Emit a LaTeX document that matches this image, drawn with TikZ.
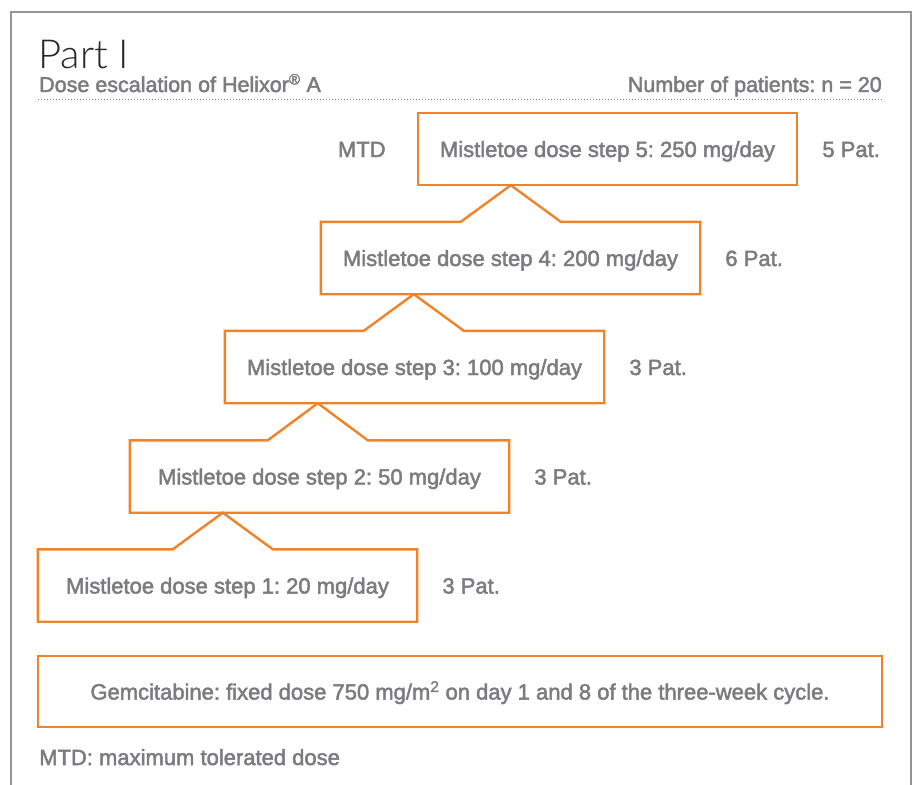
\documentclass[tikz,border=0pt]{standalone}
\usepackage{fontspec}
\usetikzlibrary{calc}
\setmainfont{Liberation Sans}[FakeBold=2.2]
\newfontfamily\titlefont{Lato Light}
\definecolor{ora}{RGB}{240,130,40}
\definecolor{txt}{RGB}{124,124,128}
\definecolor{frame}{RGB}{150,150,150}
\frenchspacing
\begin{document}
\begin{tikzpicture}[x=1pt,y=-1pt,
  ob/.style={draw=ora,line width=2.4pt,line join=miter},
  stepbox/.style={minimum width=379pt,minimum height=72pt,inner sep=0pt,text height=16pt,text depth=0pt,text=txt,font=\fontsize{22}{24}\selectfont},
  lab/.style={inner sep=0pt,text height=16pt,text depth=0pt,text=txt,font=\fontsize{22}{24}\selectfont}]
\useasboundingbox (0,0) rectangle (915,784);
\fill[white] (0,0) rectangle (915,784);
\draw[frame,line width=1.5pt] (11,790) -- (11,12) -- (911,12) -- (911,790);
% header
\node[anchor=base west,inner sep=0pt,text=black!85,font=\titlefont\fontsize{40}{41}\selectfont] (title) at (38,68) {Part I};
\node[anchor=base west,inner sep=0pt,text=txt,font=\fontsize{21.5}{23}\selectfont] (sub) at (39,92) {Dose escalation of Helixor\textsuperscript{®} A};
\node[anchor=base east,inner sep=0pt,text=txt,font=\fontsize{21.5}{23}\selectfont] (npat) at (882,92) {Number of patients: n = 20};
\coordinate (dl) at (38,99);
\coordinate (dr) at (882,99);
\draw[txt,line width=1pt,dash pattern=on 1pt off 2pt] (dl) -- (dr);
% steps
\node[stepbox] (b5) at (607.5,149) {Mistletoe dose step 5: 250 mg/day};
\node[stepbox] (b4) at (510.5,258) {Mistletoe dose step 4: 200 mg/day};
\node[stepbox] (b3) at (414.5,367) {Mistletoe dose step 3: 100 mg/day};
\node[stepbox] (b2) at (319.5,476.5) {Mistletoe dose step 2: 50 mg/day};
\node[stepbox] (b1) at (227.5,585.5) {Mistletoe dose step 1: 20 mg/day};
\draw[ob] (b5.north west) rectangle (b5.south east);
\foreach \lo/\up in {b4/b5,b3/b4,b2/b3,b1/b2}{
  \path (\up.south west) ++(93,0) coordinate (pk);
  \draw[ob] (\lo.north west) -- ($(pk |- \lo.north)+(-50,0)$) -- (pk) -- ($(pk |- \lo.north)+(50,0)$) -- (\lo.north east) -- (\lo.south east) -- (\lo.south west) -- cycle;
}
\node[lab,anchor=east] (mtd) at ($(b5.west)+(-32,0)$) {MTD};
\node[lab,anchor=west] (p5) at ($(b5.east)+(25,0)$) {5 Pat.};
\node[lab,anchor=west] (p4) at ($(b4.east)+(25,0)$) {6 Pat.};
\node[lab,anchor=west] (p3) at ($(b3.east)+(25,0)$) {3 Pat.};
\node[lab,anchor=west] (p2) at ($(b2.east)+(25,0)$) {3 Pat.};
\node[lab,anchor=west] (p1) at ($(b1.east)+(25,0)$) {3 Pat.};
% gemcitabine
\node[ob,minimum width=844pt,minimum height=71pt,inner sep=0pt] (gem) at (460,691.5) {};
\node[lab] (gemt) at (gem.center) {Gemcitabine: fixed dose 750 mg/m\textsuperscript{2} on day 1 and 8 of the three-week cycle.};
\node[lab,anchor=west] (foot) at (39,757) {MTD: maximum tolerated dose};
\end{tikzpicture}
\end{document}
